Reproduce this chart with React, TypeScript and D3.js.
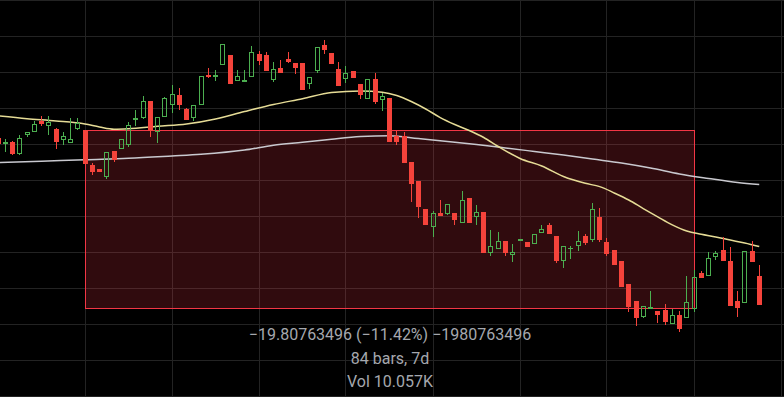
import React from 'react';
import * as d3 from 'd3';

// candles, bar index starts at firstBar (bar 0 = start of the measured range)
const firstBar = -12;
const opens = [
  172.67, 172.11, 172.26, 170.89, 173.0, 173.37, 174.56, 174.03, 173.67, 172.48, 172.14, 173.7,
  173.56, 169.67, 169.22, 168.37, 171.22, 171.41, 171.89, 174.7, 174.89, 176.78, 173.3, 174.97,
  176.3, 177.44, 175.92, 174.86, 176.37, 179.67, 179.48, 180.81, 181.89, 178.97, 179.03, 179.41,
  182.0, 181.89, 179.08, 180.44, 181.44, 180.97, 180.97, 178.63, 180.14, 182.97, 182.11, 180.33,
  179.26, 180.11, 178.67, 176.97, 179.22, 176.89, 177.11, 172.89, 172.89, 170.0, 167.89, 164.78,
  162.74, 164.3, 164.26, 164.3, 163.26, 166.0, 163.86, 164.44, 159.92, 160.37, 161.22, 159.63,
  161.19, 161.11, 160.92, 162.08, 163.0, 161.78, 159.0, 160.33, 160.7, 161.78, 161.33, 163.89,
  161.11, 160.22, 159.0, 156.44, 154.56, 152.78, 153.67, 153.44, 153.56, 152.0, 153.0, 152.67,
  153.67, 157.67, 157.37, 159.48, 160.22, 159.0, 154.56, 154.37, 160.11, 157.33,
];
const highs = [
  172.78, 172.56, 172.37, 173.0, 173.37, 174.59, 175.11, 175.11, 173.74, 173.37, 174.89, 174.89,
  173.56, 169.89, 169.22, 171.11, 171.22, 172.52, 174.44, 175.81, 177.3, 176.78, 174.97, 177.26,
  178.52, 178.22, 176.0, 176.3, 179.52, 180.44, 180.22, 183.11, 181.89, 180.19, 180.22, 182.86,
  182.3, 182.26, 181.11, 181.33, 182.22, 180.97, 180.97, 179.48, 182.74, 183.56, 182.11, 181.11,
  180.67, 180.11, 178.67, 179.22, 179.89, 177.7, 177.11, 173.48, 173.3, 170.0, 167.89, 164.78,
  164.56, 165.78, 165.3, 164.3, 166.78, 166.0, 165.19, 164.44, 162.44, 162.22, 161.22, 160.89,
  161.48, 161.11, 162.0, 163.0, 163.22, 161.78, 160.67, 160.67, 162.33, 162.0, 165.44, 164.89,
  161.56, 160.22, 159.0, 156.44, 154.56, 154.0, 155.67, 153.44, 154.22, 153.67, 153.44, 157.33,
  158.03, 157.89, 160.0, 160.11, 161.67, 160.56, 155.67, 160.11, 161.22, 158.56,
];
const lows = [
  171.89, 171.11, 170.83, 170.78, 172.81, 173.37, 174.0, 173.0, 171.44, 171.89, 172.14, 173.56,
  169.78, 168.56, 168.92, 168.11, 170.03, 171.41, 171.7, 173.97, 174.78, 172.78, 172.11, 174.97,
  175.44, 175.81, 174.7, 174.59, 176.37, 179.33, 179.03, 180.81, 178.7, 178.97, 179.03, 179.41,
  180.74, 180.14, 178.92, 179.92, 181.03, 179.74, 178.03, 178.08, 179.92, 182.03, 180.92, 178.48,
  178.74, 179.37, 177.03, 176.97, 176.48, 175.63, 172.22, 171.89, 169.92, 165.59, 163.74, 163.03,
  161.63, 164.03, 164.11, 163.03, 163.26, 163.26, 163.03, 159.92, 159.59, 160.37, 159.59, 158.92,
  161.19, 160.59, 160.92, 162.08, 162.0, 158.78, 158.22, 159.26, 160.11, 160.78, 161.11, 161.11,
  159.56, 158.56, 156.11, 153.33, 151.78, 152.67, 153.67, 152.11, 151.89, 152.0, 151.11, 152.67,
  153.37, 157.14, 157.37, 159.14, 159.0, 154.0, 152.78, 154.37, 158.89, 154.11,
];
const closes = [
  172.0, 172.22, 170.89, 172.63, 173.37, 174.22, 174.22, 174.48, 172.26, 172.86, 172.52, 174.33,
  169.78, 168.92, 168.92, 171.11, 170.22, 172.52, 174.08, 174.86, 176.78, 173.48, 174.97, 177.11,
  177.56, 176.37, 174.7, 176.3, 179.52, 179.44, 179.67, 183.11, 178.7, 179.52, 179.11, 182.19,
  181.19, 180.14, 180.3, 179.92, 181.11, 180.44, 178.03, 179.48, 182.74, 182.48, 180.92, 178.48,
  179.89, 179.37, 177.41, 179.22, 176.67, 177.33, 172.22, 172.26, 169.92, 167.59, 165.03, 163.03,
  164.3, 164.03, 165.3, 163.56, 165.74, 163.26, 164.41, 159.92, 160.67, 161.19, 159.92, 160.0,
  161.48, 160.59, 162.0, 162.56, 162.0, 159.0, 160.67, 160.5, 161.22, 161.03, 164.78, 161.33,
  159.78, 158.56, 156.11, 153.89, 152.67, 154.0, 153.89, 153.0, 152.22, 153.0, 151.44, 154.44,
  157.22, 157.14, 159.33, 159.89, 159.0, 154.0, 153.78, 160.11, 158.89, 154.11,
];

// moving averages: [bar, price]
const fastMaBars = [-12, -8, -4, 0, 2, 4, 6, 10, 14, 18, 22, 26, 30, 34, 38, 41, 43, 45, 47, 49, 51, 53, 55, 57, 60, 63, 66, 69, 71, 73, 75, 77, 79, 81, 83, 85, 87, 89, 91, 93];
const fastMa = [175.13, 174.81, 174.56, 174.22, 173.89, 173.64, 173.69, 173.97, 174.22, 174.78, 175.61, 176.39, 177.03, 177.72, 177.89, 177.76, 177.39, 176.72, 175.89, 174.94, 174.17, 173.5, 172.72, 171.72, 170.39, 169.56, 168.39, 167.63, 167.26, 166.56, 165.78, 164.83, 163.91, 163.02, 162.33, 161.97, 161.67, 161.33, 161.0, 160.61];
const slowMaBars = [-12, -6, 0, 6, 12, 16, 22, 26, 30, 34, 38, 42, 46, 50, 54, 58, 62, 66, 70, 74, 78, 82, 86, 90, 93];
const slowMa = [169.93, 170.09, 170.26, 170.41, 170.67, 170.86, 171.33, 171.87, 172.19, 172.53, 172.82, 172.91, 172.6, 172.28, 171.94, 171.56, 171.17, 170.78, 170.33, 169.89, 169.33, 168.67, 168.17, 167.72, 167.5];

// measure tool
const measureBars = [0, 84];
const measurePrices = [173.56, 153.75];
const measureLabels = ['\u221219.80763496 (\u221211.42%) \u22121980763496', '84 bars, 7d', 'Vol 10.057K'];

const priceTicks = d3.range(144, 189, 4);
const timeTicks = d3.range(-12, 97, 12);

const width = 784;
const height = 397;
const green = '#4caf50';
const red = '#f5433b';

export default function App() {
  const x = d3.scaleLinear().domain([0, 84]).range([85, 694]);
  const y = d3.scaleLinear().domain([188, 144]).range([0, 396]);

  const candles = opens.map((o, i) => ({
    bar: firstBar + i,
    o,
    h: highs[i],
    l: lows[i],
    c: closes[i],
  }));

  const line = d3
    .line<[number, number]>()
    .x(d => x(d[0]))
    .y(d => y(d[1]))
    .curve(d3.curveMonotoneX);

  const fastPts = fastMaBars.map((b, i) => [b, fastMa[i]] as [number, number]);
  const slowPts = slowMaBars.map((b, i) => [b, slowMa[i]] as [number, number]);

  const bx0 = Math.floor(x(measureBars[0])) + 0.5;
  const bx1 = Math.floor(x(measureBars[1])) + 0.5;
  const by0 = Math.round(y(measurePrices[0])) + 0.5;
  const by1 = Math.round(y(measurePrices[1])) + 0.5;
  const midX = (bx0 + bx1) / 2;

  return (
    <svg
      width={width}
      height={height}
      style={{ position: 'absolute', left: 0, top: 0, background: '#000' }}
    >
      <rect width={width} height={height} fill="#000" />
      {/* grid */}
      <g stroke="#232323" strokeWidth={1} shapeRendering="crispEdges">
        {priceTicks.map(p => (
          <line key={'h' + p} x1={0} x2={width} y1={Math.round(y(p)) + 0.5} y2={Math.round(y(p)) + 0.5} />
        ))}
        {timeTicks.map(b => (
          <line key={'v' + b} y1={0} y2={height} x1={Math.floor(x(b)) + 0.5} x2={Math.floor(x(b)) + 0.5} />
        ))}
      </g>

      {/* measure box */}
      <rect
        x={bx0}
        y={by0}
        width={bx1 - bx0}
        height={by1 - by0}
        fill="rgba(242,54,69,0.2)"
        stroke="#f23645"
        strokeWidth={1}
        shapeRendering="crispEdges"
      />

      {/* moving averages */}
      <path d={line(slowPts) || ''} fill="none" stroke="#c9c9cf" strokeWidth={1.5} />
      <path d={line(fastPts) || ''} fill="none" stroke="#e6dc96" strokeWidth={1.5} />

      {/* candles */}
      <g shapeRendering="crispEdges">
        {candles.map(d => {
          const cx = Math.floor(x(d.bar));
          const up = d.c >= d.o;
          const top = y(Math.max(d.o, d.c));
          const bot = y(Math.min(d.o, d.c));
          const bodyH = Math.max(1, bot - top);
          if (up) {
            return (
              <g key={d.bar} stroke={green} fill="none">
                <line x1={cx + 0.5} x2={cx + 0.5} y1={y(d.h)} y2={top} />
                <line x1={cx + 0.5} x2={cx + 0.5} y1={top + bodyH} y2={y(d.l)} />
                <rect x={cx - 1.5} y={top + 0.5} width={4} height={Math.max(0.5, bodyH - 1)} />
              </g>
            );
          }
          return (
            <g key={d.bar}>
              <line x1={cx + 0.5} x2={cx + 0.5} y1={y(d.h)} y2={y(d.l)} stroke={red} />
              <rect x={cx - 2} y={top} width={5} height={bodyH} fill={red} />
            </g>
          );
        })}
      </g>

      {/* measure labels */}
      <g fontFamily="Roboto, 'Noto Sans', sans-serif" fontSize={16} fill="#a5a8ae" textAnchor="middle">
        {measureLabels.map((t, i) => (
          <text key={i} x={midX} y={340 + i * 23.5}>
            {t}
          </text>
        ))}
      </g>
    </svg>
  );
}
